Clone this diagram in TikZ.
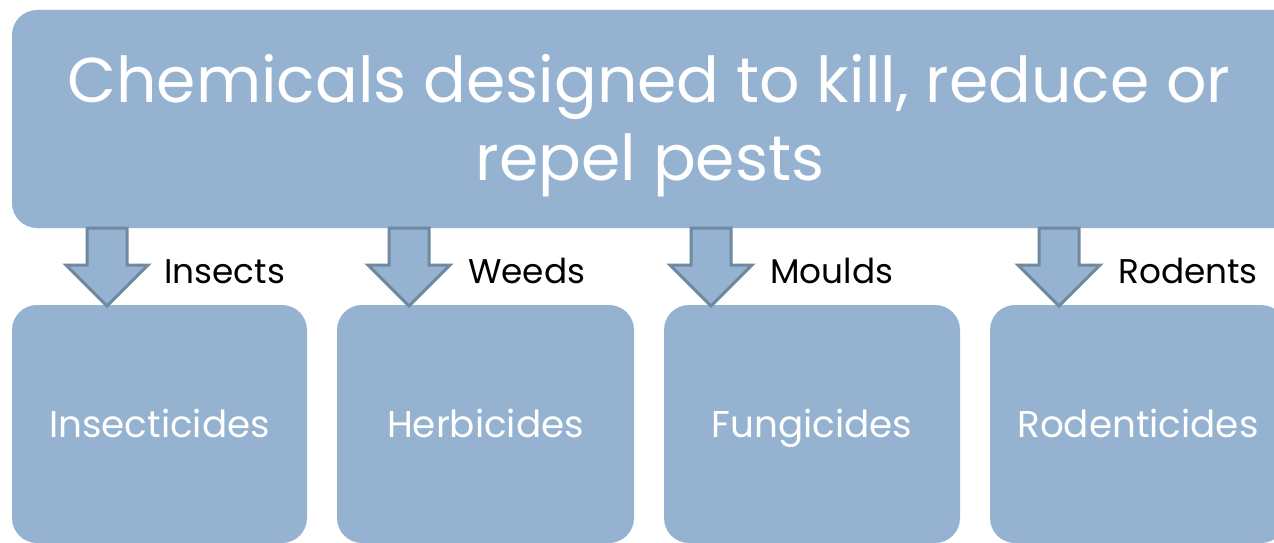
\documentclass[tikz,border=0pt]{standalone}
\usepackage{fontspec}
\setmainfont{Poppins}
\usetikzlibrary{calc}
\definecolor{boxfill}{RGB}{149,179,208}
\definecolor{arrowline}{RGB}{111,137,160}
\tikzset{
  roundbox/.style={fill=boxfill, rounded corners=25pt, inner sep=0pt},
  blockarrow/.style={fill=boxfill, draw=arrowline, line width=3pt, line join=miter},
  boxtext/.style={text=white, font=\fontsize{37.3}{44}\selectfont, anchor=base, inner sep=0pt},
  titletext/.style={text=white, font=\fontsize{63.3}{78}\selectfont, anchor=base, inner sep=0pt},
  arrowlabel/.style={text=black, font=\fontsize{34.3}{40}\selectfont, anchor=base west, inner sep=0pt},
}
\begin{document}
\begin{tikzpicture}[x=1pt,y=-1pt]
\useasboundingbox (0,0) rectangle (1274,543);
\clip (0,0) rectangle (1274,543);
\fill[white] (0,0) rectangle (1274,543);
% top box
\path[roundbox] (12,10) rectangle (1300,228);
\node[titletext] (title1) at (649,102) {Chemicals designed to kill, reduce or};
\node[titletext] (title2) at (650,180) {repel pests};
% bottom boxes
\path[roundbox] (12,305) rectangle (307,543);
\path[roundbox] (337,305) rectangle (634,543);
\path[roundbox] (664,305) rectangle (960,543);
\path[roundbox] (990,305) rectangle (1286,543);
\node[boxtext] (b1) at (159.5,437) {Insecticides};
\node[boxtext] (b2) at (485.5,437) {Herbicides};
\node[boxtext] (b3) at (812,437) {Fungicides};
\node[boxtext] (b4) at (1138,437) {Rodenticides};
% arrows
\foreach \n/\x in {1/107,2/409,3/711,4/1059}{
  \coordinate (s\n) at (\x,228);
  \coordinate (t\n) at (\x,306);
  \draw[blockarrow] ($(s\n)+(-20,0)$) -- ($(s\n)+(-20,37)$) -- ($(s\n)+(-41,37)$) -- (t\n)
     -- ($(s\n)+(41,37)$) -- ($(s\n)+(20,37)$) -- ($(s\n)+(20,0)$) -- cycle;
}
\node[arrowlabel] (l1) at (164,283) {Insects};
\node[arrowlabel] (l2) at (468,283) {Weeds};
\node[arrowlabel] (l3) at (770,283) {Moulds};
\node[arrowlabel] (l4) at (1118,283) {Rodents};
\end{tikzpicture}
\end{document}
